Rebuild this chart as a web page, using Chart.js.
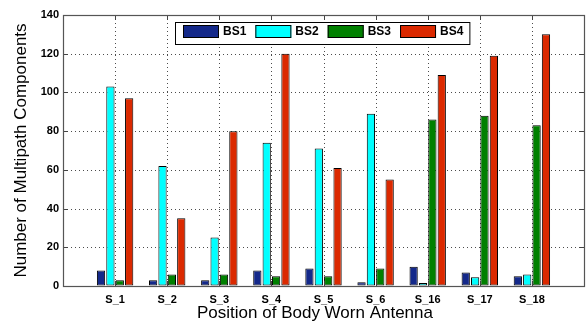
<!DOCTYPE html>
<html>
<head>
<meta charset="utf-8">
<script src="https://cdn.jsdelivr.net/npm/chart.js@4.4.1/dist/chart.umd.min.js"></script>
<style>
  html, body { margin: 0; padding: 0; background: #fff; }
  #wrap { width: 586px; height: 325px; }
</style>
</head>
<body>
<div id="wrap"><canvas id="c" width="586" height="325"></canvas></div>
<script>
// Antenna positions and multipath component counts per base station
const categories = ['S_1', 'S_2', 'S_3', 'S_4', 'S_5', 'S_6', 'S_16', 'S_17', 'S_18'];
const BS1 = [8, 3, 3, 8, 9, 2, 10, 7, 5];
const BS2 = [103, 62, 25, 74, 71, 89, 1.5, 4.5, 6];
const BS3 = [3, 6, 6, 5, 5, 9, 86, 88, 83];
const BS4 = [97, 35, 80, 120, 61, 55, 109, 119, 130];
const yTicks = [0, 20, 40, 60, 80, 100, 120, 140];
const xTitle = 'Position of Body Worn Antenna';
const yTitle = 'Number of Multipath Components';

// one empty slot on each side of the groups
const labels = [''].concat(categories, ['']);
const pad = arr => [null].concat(arr, [null]);

const FONT = "'Liberation Sans', Arial, Helvetica, sans-serif";

function strokeSeg(ctx, x1, y1, x2, y2) {
  ctx.beginPath();
  ctx.moveTo(x1, y1);
  ctx.lineTo(x2, y2);
  ctx.stroke();
}

const axesBox = {
  id: 'axesBox',
  // dotted grid behind the bars
  beforeDatasetsDraw(chart) {
    const ctx = chart.ctx, a = chart.chartArea;
    const xs = chart.scales.x, ys = chart.scales.y;
    ctx.save();
    ctx.strokeStyle = 'rgba(0,0,0,0.7)';
    ctx.lineWidth = 1;
    ctx.setLineDash([1, 3]);
    for (let i = 1; i <= categories.length; i++) {
      const x = Math.round(xs.getPixelForTick(i)) + 0.5;
      strokeSeg(ctx, x, a.top, x, a.bottom);
    }
    yTicks.slice(1, -1).forEach(v => {
      const y = Math.round(ys.getPixelForValue(v)) + 0.5;
      strokeSeg(ctx, a.left, y, a.right, y);
    });
    ctx.restore();
  },
  afterDraw(chart) {
    const ctx = chart.ctx, a = chart.chartArea;
    const xs = chart.scales.x, ys = chart.scales.y;
    ctx.save();
    // inward tick marks on all four sides
    ctx.strokeStyle = '#444';
    ctx.lineWidth = 1;
    ctx.beginPath();
    for (let i = 1; i <= categories.length; i++) {
      const x = Math.round(xs.getPixelForTick(i)) + 0.5;
      ctx.moveTo(x, a.bottom); ctx.lineTo(x, a.bottom - 5);
      ctx.moveTo(x, a.top); ctx.lineTo(x, a.top + 5);
    }
    yTicks.forEach(v => {
      const y = Math.round(ys.getPixelForValue(v)) + 0.5;
      ctx.moveTo(a.left, y); ctx.lineTo(a.left + 5, y);
      ctx.moveTo(a.right, y); ctx.lineTo(a.right - 5, y);
    });
    ctx.stroke();
    // axes box
    ctx.strokeStyle = '#555';
    ctx.lineWidth = 1.2;
    ctx.strokeRect(Math.round(a.left) + 0.5, Math.round(a.top) + 0.5,
                   Math.round(a.right - a.left), Math.round(a.bottom - a.top));

    // x-axis title, centred on the figure
    ctx.fillStyle = '#000';
    ctx.font = '17px ' + FONT;
    ctx.textAlign = 'center';
    ctx.textBaseline = 'middle';
    ctx.fillText(xTitle, chart.width / 2 + 22, 313);

    // legend inside the axes, centred at the top
    const ds = chart.data.datasets;
    const boxW = 36, boxH = 13, gap = 4, spacing = 9;
    ctx.font = 'bold 12px ' + FONT;
    const widths = ds.map(d => boxW + gap + ctx.measureText(d.label).width);
    const total = widths.reduce((s, w) => s + w, 0) + spacing * (ds.length - 1);
    const cx = (a.left + a.right) / 2;
    let x = Math.round(cx - total / 2);
    const y = Math.round(a.top) + 10;
    const l = x - 8, r = x + total + 6, t = y - 3, b = y + boxH + 6;
    ctx.fillStyle = '#fff';
    ctx.fillRect(l, t, r - l, b - t);
    ctx.strokeStyle = '#000';
    ctx.lineWidth = 1;
    ctx.strokeRect(l + 0.5, t + 0.5, r - l, b - t);
    ds.forEach((d, i) => {
      ctx.fillStyle = d.backgroundColor;
      ctx.fillRect(x, y, boxW, boxH);
      ctx.strokeStyle = '#000';
      ctx.strokeRect(x + 0.5, y + 0.5, boxW - 1, boxH - 1);
      ctx.fillStyle = '#000';
      ctx.textBaseline = 'middle';
      ctx.textAlign = 'left';
      ctx.fillText(d.label, x + boxW + gap, y + boxH / 2 + 0.5);
      x += widths[i] + spacing;
    });
    ctx.restore();
  }
};

const barStyle = (color) => ({
  backgroundColor: color,
  borderColor: '#000',
  borderWidth: 1,
  borderSkipped: false,
  categoryPercentage: 0.72,
  barPercentage: 0.88
});

new Chart(document.getElementById('c'), {
  type: 'bar',
  data: {
    labels: labels,
    datasets: [
      Object.assign({ label: 'BS1', data: pad(BS1) }, barStyle('#14298a')),
      Object.assign({ label: 'BS2', data: pad(BS2) }, barStyle('#00ffff')),
      Object.assign({ label: 'BS3', data: pad(BS3) }, barStyle('#008000')),
      Object.assign({ label: 'BS4', data: pad(BS4) }, barStyle('#db2900'))
    ]
  },
  options: {
    responsive: false,
    animation: false,
    devicePixelRatio: 1,
    layout: { padding: { top: 15, right: 2, left: 0, bottom: 0 } },
    plugins: {
      tooltip: { enabled: false },
      legend: { display: false }
    },
    scales: {
      x: {
        offset: false,
        grid: { drawTicks: false, drawOnChartArea: false },
        border: { display: false },
        ticks: {
          padding: 7,
          color: '#000',
          maxRotation: 0,
          autoSkip: false,
          font: { family: FONT, size: 11, weight: 'bold' }
        },
        afterFit(scale) {
          scale.height = 39;
          scale.paddingLeft = 0;
          scale.paddingRight = 0;
        }
      },
      y: {
        min: 0,
        max: 140,
        grid: { drawTicks: false, drawOnChartArea: false },
        border: { display: false },
        afterBuildTicks(scale) { scale.ticks = yTicks.map(v => ({ value: v })); },
        ticks: {
          padding: 4,
          color: '#000',
          font: { family: FONT, size: 11, weight: 'bold' }
        },
        title: {
          display: true,
          text: yTitle,
          color: '#000',
          padding: { top: 11, bottom: 0 },
          font: { family: FONT, size: 17 }
        },
        afterFit(scale) { scale.width = 63; }
      }
    }
  },
  plugins: [axesBox]
});
</script>
</body>
</html>
